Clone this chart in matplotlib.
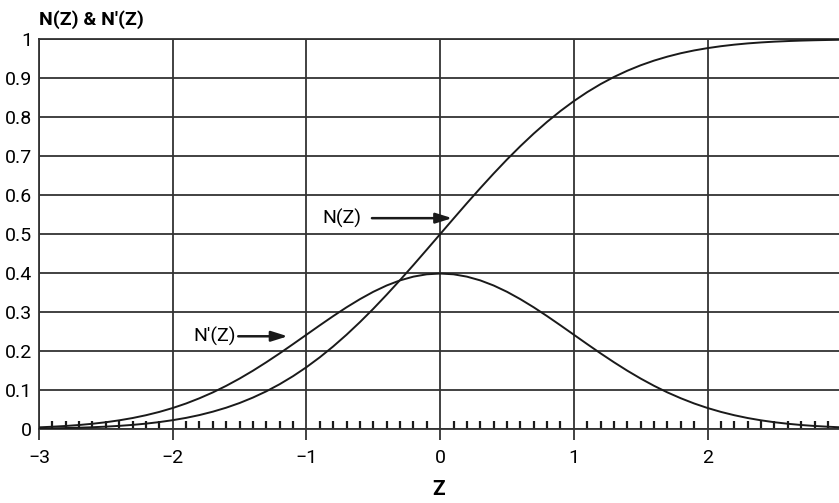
import matplotlib.pyplot as plt
from matplotlib.ticker import MultipleLocator

plt.rcParams['font.family'] = ['Roboto', 'DejaVu Sans']

# values at steps of 0.1
z = [-3.0, -2.9, -2.8, -2.7, -2.6, -2.5, -2.4, -2.3, -2.2, -2.1,
     -2.0, -1.9, -1.8, -1.7, -1.6, -1.5, -1.4, -1.3, -1.2, -1.1,
     -1.0, -0.9, -0.8, -0.7, -0.6, -0.5, -0.4, -0.3, -0.2, -0.1,
     0.0, 0.1, 0.2, 0.3, 0.4, 0.5, 0.6, 0.7, 0.8, 0.9,
     1.0, 1.1, 1.2, 1.3, 1.4, 1.5, 1.6, 1.7, 1.8, 1.9,
     2.0, 2.1, 2.2, 2.3, 2.4, 2.5, 2.6, 2.7, 2.8, 2.9, 3.0]

cdf = [0.0013, 0.0019, 0.0026, 0.0035, 0.0047, 0.0062, 0.0082, 0.0107, 0.0139, 0.0179,
       0.0228, 0.0287, 0.0359, 0.0446, 0.0548, 0.0668, 0.0808, 0.0968, 0.1151, 0.1357,
       0.1587, 0.1841, 0.2119, 0.2420, 0.2743, 0.3085, 0.3446, 0.3821, 0.4207, 0.4602,
       0.5000, 0.5398, 0.5793, 0.6179, 0.6554, 0.6915, 0.7257, 0.7580, 0.7881, 0.8159,
       0.8413, 0.8643, 0.8849, 0.9032, 0.9192, 0.9332, 0.9452, 0.9554, 0.9641, 0.9713,
       0.9772, 0.9821, 0.9861, 0.9893, 0.9918, 0.9938, 0.9953, 0.9965, 0.9974, 0.9981, 0.9987]

pdf = [0.0044, 0.0060, 0.0079, 0.0104, 0.0136, 0.0175, 0.0224, 0.0283, 0.0355, 0.0440,
       0.0540, 0.0656, 0.0790, 0.0940, 0.1109, 0.1295, 0.1497, 0.1714, 0.1942, 0.2179,
       0.2420, 0.2661, 0.2897, 0.3123, 0.3332, 0.3521, 0.3683, 0.3814, 0.3910, 0.3970,
       0.3989, 0.3970, 0.3910, 0.3814, 0.3683, 0.3521, 0.3332, 0.3123, 0.2897, 0.2661,
       0.2420, 0.2179, 0.1942, 0.1714, 0.1497, 0.1295, 0.1109, 0.0940, 0.0790, 0.0656,
       0.0540, 0.0440, 0.0355, 0.0283, 0.0224, 0.0175, 0.0136, 0.0104, 0.0079, 0.0060, 0.0044]

x_ticks = [-3, -2, -1, 0, 1, 2]
x_labels = ['\u22123', '\u22122', '\u22121', '0', '1', '2']
y_ticks = [0, 0.1, 0.2, 0.3, 0.4, 0.5, 0.6, 0.7, 0.8, 0.9, 1]
y_labels = ['0', '0.1', '0.2', '0.3', '0.4', '0.5', '0.6', '0.7', '0.8', '0.9', '1']

ink = '#1a1a1a'
grid_col = '#333333'

fig = plt.figure(figsize=(8.39, 5.03), dpi=100)
ax = fig.add_axes([0.0465, 0.147, 0.953, 0.775])

ax.plot(z, cdf, color=ink, lw=1.4, zorder=3)
ax.plot(z, pdf, color=ink, lw=1.4, zorder=3)

ax.set_xlim(-3, 2.98)
ax.set_ylim(0, 1)
ax.set_xticks(x_ticks)
ax.set_xticklabels(x_labels)
ax.set_yticks(y_ticks)
ax.set_yticklabels(y_labels)
ax.xaxis.set_minor_locator(MultipleLocator(0.1))
ax.grid(True, which='major', color=grid_col, lw=1.3)
ax.tick_params(axis='x', which='major', direction='out', length=8, width=1.3,
               color=grid_col, labelsize=14, pad=6)
ax.tick_params(axis='x', which='minor', direction='in', length=6, width=1.6,
               color=ink)
ax.tick_params(axis='y', length=0, labelsize=14, pad=5)

for side in ['left', 'bottom', 'top']:
    ax.spines[side].set_color(grid_col)
    ax.spines[side].set_linewidth(1.3)
ax.spines['right'].set_visible(False)

ax.set_xlabel('Z', fontsize=15, fontweight='bold', labelpad=10)
fig.text(0.047, 0.962, "N(Z) & N'(Z)", fontsize=14, fontweight='bold', ha='left', va='center')

arrow = dict(arrowstyle='-|>,head_length=0.7,head_width=0.22', color=ink, lw=1.8,
             mutation_scale=14, shrinkA=0, shrinkB=0)

# N(Z) label and arrow
ax.text(-0.59, 0.541, 'N(Z)', fontsize=14, ha='right', va='center')
ax.annotate('', xy=(0.09, 0.541), xytext=(-0.51, 0.541), arrowprops=arrow)

# N'(Z) label and arrow
ax.text(-1.53, 0.238, "N'(Z)", fontsize=14, ha='right', va='center')
ax.annotate('', xy=(-1.14, 0.238), xytext=(-1.51, 0.238), arrowprops=arrow)

fig.savefig('out.png', dpi=100)
